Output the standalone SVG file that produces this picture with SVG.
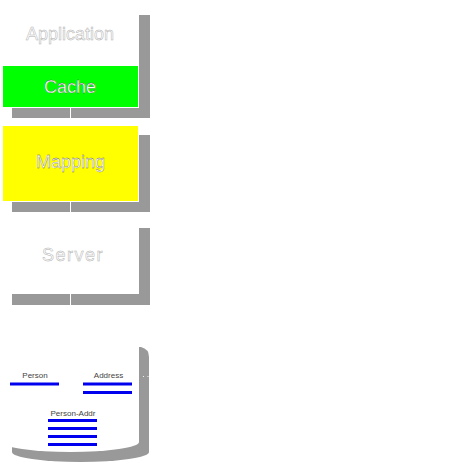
<svg xmlns="http://www.w3.org/2000/svg" width="458" height="464" viewBox="0 0 458 464">
<style>
.shadow{fill:#999999}
.box{fill:#ffffff}
.gap{stroke:#ffffff;stroke-width:1}
.big{font-family:"Liberation Sans",Arial,sans-serif;font-size:18px;text-anchor:middle}
.ghost{fill:#ffffff;stroke:#b0b0b0;stroke-width:0.5}
.onfill{fill:#ffffff;stroke:#555555;stroke-width:0.3}
.small{font-family:"Liberation Sans",Arial,sans-serif;font-size:8px;text-anchor:middle;fill:#444444}
.tbl{fill:#0000ee}
</style>
<rect width="458" height="464" fill="#ffffff"/>
<g id="application">
<rect class="shadow" x="12" y="15" width="138" height="103"/>
<rect class="box" x="2" y="5" width="137" height="103"/>
<line class="gap" x1="70.5" y1="108" x2="70.5" y2="118"/>
<text class="big ghost" x="70" y="40">Application</text>
</g>
<g id="cache">
<rect x="2.5" y="65.5" width="136" height="42" fill="#00ff00" stroke="#ffffff" stroke-width="1"/>
<text class="big onfill" x="70" y="93">Cache</text>
</g>
<g id="mapping">
<rect class="shadow" x="12" y="135" width="138" height="77"/>
<rect x="2.5" y="125.5" width="136" height="76" fill="#ffff00" stroke="#ffffff" stroke-width="1"/>
<line class="gap" x1="70.5" y1="202" x2="70.5" y2="212"/>
<text class="big onfill" x="70.5" y="168">Mapping</text>
</g>
<g id="server">
<rect class="shadow" x="12" y="228" width="138" height="77"/>
<rect class="box" x="2" y="218" width="137" height="76"/>
<line class="gap" x1="70.5" y1="294" x2="70.5" y2="305"/>
<text class="big ghost" x="73" y="261" letter-spacing="1.5">Server</text>
</g>
<g id="database">
<path class="shadow" d="M12 357 Q12 347 22 347 L141 347 Q149 349 149 357 L149 452 A68.5 10 0 0 1 12 452 Z"/>
<path class="box" d="M2 337 L139 337 L139 442 A68.5 10 0 0 1 2 442 Z"/>
<circle cx="143.5" cy="376.5" r="0.6" fill="#ffffff"/>
<circle cx="148" cy="376.5" r="0.6" fill="#ffffff"/>
<text class="small" x="35" y="378">Person</text>
<rect class="tbl" x="10" y="382.5" width="49" height="3"/>
<text class="small" x="108.5" y="378">Address</text>
<rect class="tbl" x="83" y="382.5" width="49" height="3"/>
<rect class="tbl" x="83" y="391" width="49" height="3"/>
<text class="small" x="73" y="416">Person-Addr</text>
<rect class="tbl" x="48" y="419" width="49" height="3"/>
<rect class="tbl" x="48" y="427" width="49" height="3"/>
<rect class="tbl" x="48" y="435" width="49" height="3"/>
<rect class="tbl" x="48" y="443" width="49" height="3"/>
</g>
<g id="connectors"></g>
</svg>
